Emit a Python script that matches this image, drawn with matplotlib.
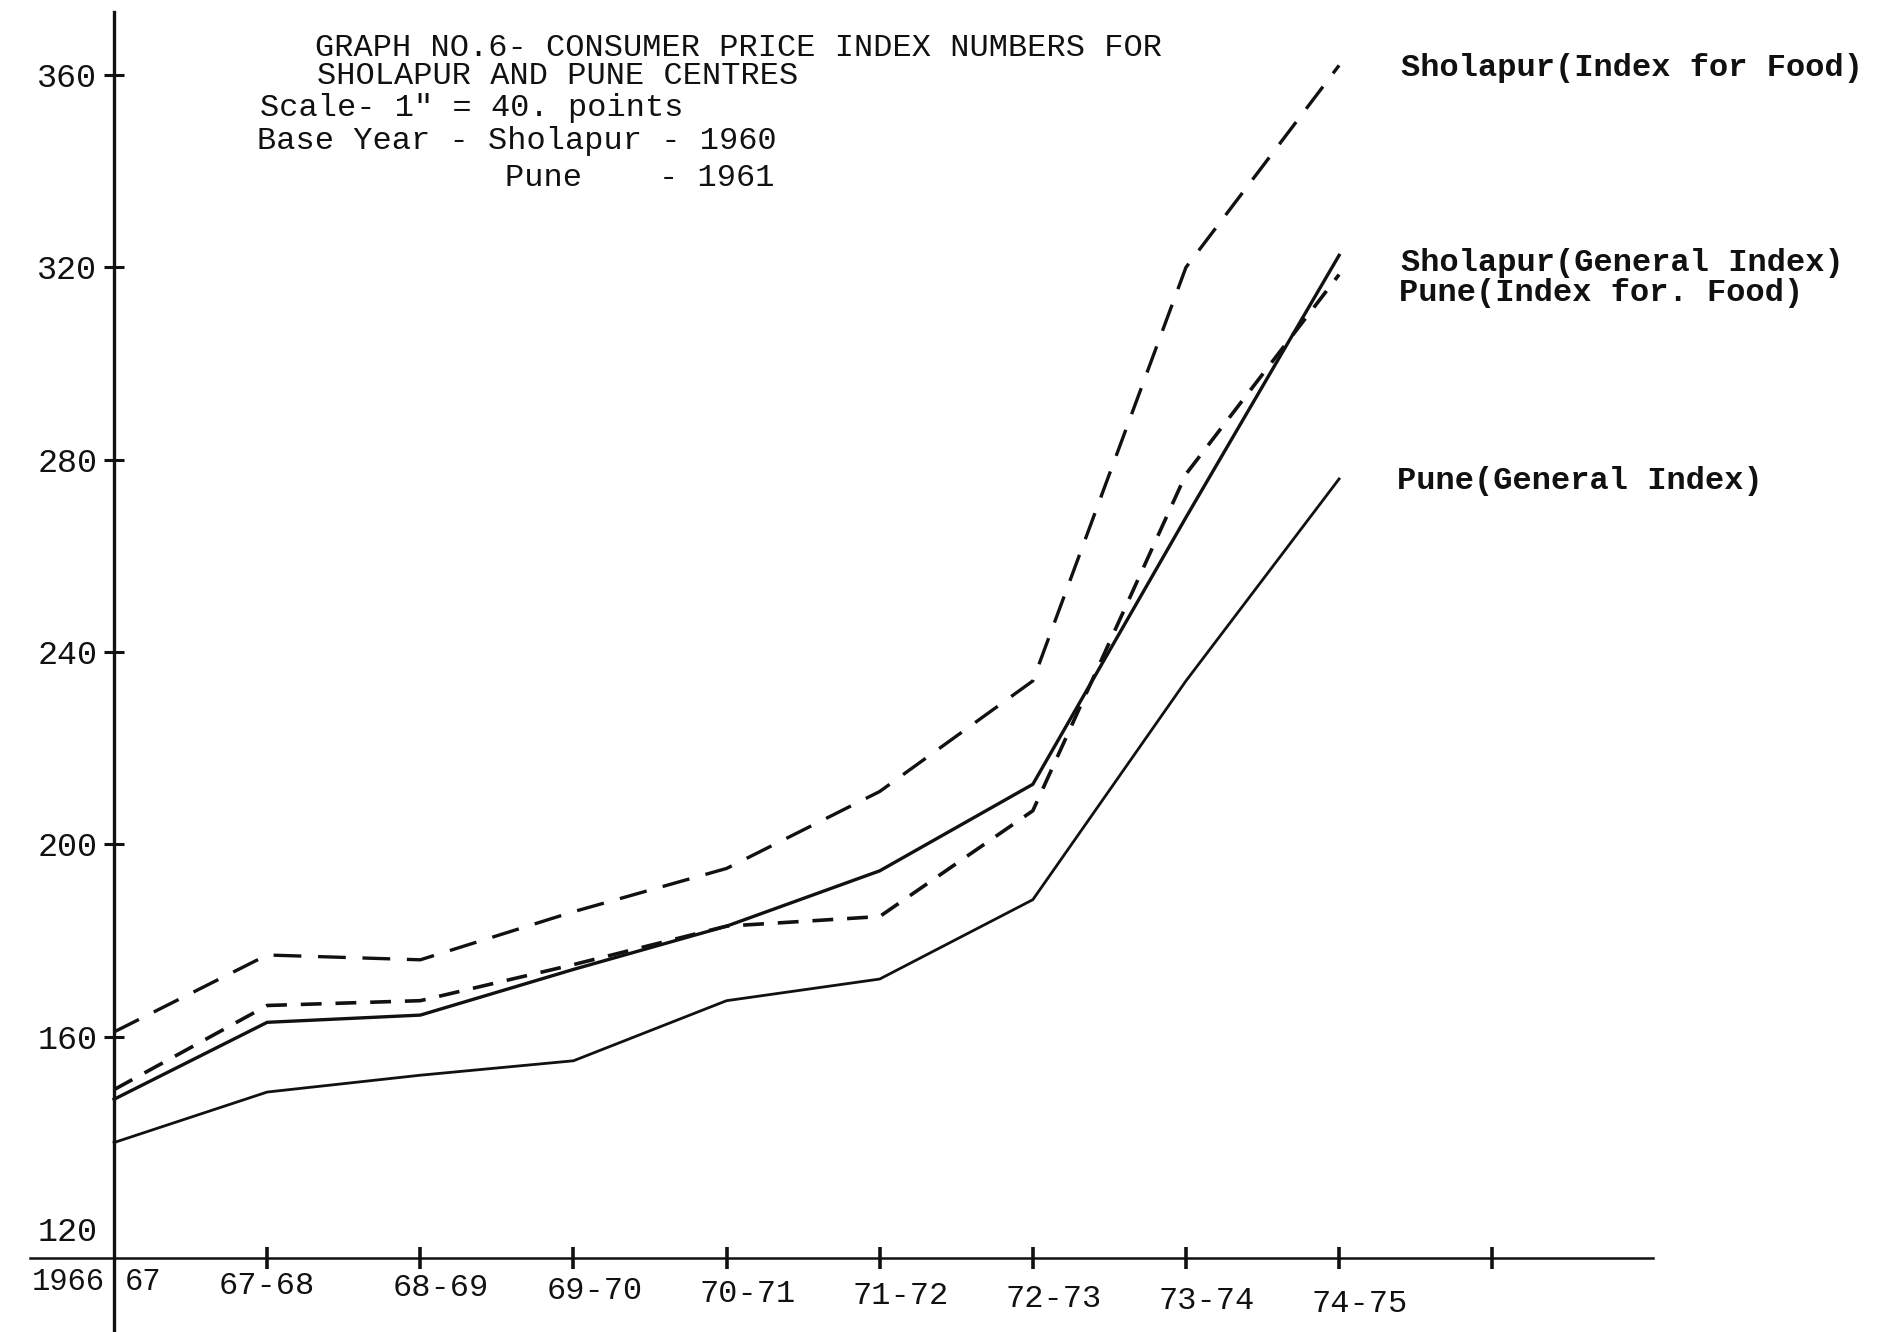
import matplotlib
matplotlib.use("Agg")
import matplotlib.pyplot as plt

# ---------------- data ----------------
periods = ["1966-67", "67-68", "68-69", "69-70", "70-71", "71-72", "72-73", "73-74", "74-75"]
sholapur_food = [161, 177, 176, 186, 195, 211, 234, 320, 362]
sholapur_general = [147, 163, 164.5, 174, 183, 194.5, 212.5, 268, 322.5]
pune_food = [149, 166.5, 167.5, 175, 183, 185, 207, 277, 318.5]
pune_general = [138, 148.5, 152, 155, 167.5, 172, 188.5, 234, 276]
y_ticks = [120, 160, 200, 240, 280, 320, 360]
y_tick_labels = ["120", "160", "200", "240", "280", "320", "360"]

title_lines = [
    "GRAPH NO.6- CONSUMER PRICE INDEX NUMBERS FOR",
    "SHOLAPUR AND PUNE CENTRES",
    "Scale- 1\" = 40. points",
    "Base Year - Sholapur - 1960",
]
title_last = "Pune    - 1961"
series_labels = [
    "Sholapur(Index for Food)",
    "Sholapur(General Index)",
    "Pune(Index for. Food)",
    "Pune(General Index)",
]

# ---------------- figure ----------------
plt.rcParams["lines.scale_dashes"] = False
FONT = ["Liberation Mono", "DejaVu Sans Mono"]
INK = "#111111"

W, H = 1878, 1332
fig = plt.figure(figsize=(W / 100, H / 100), dpi=100)
fig.patch.set_facecolor("white")
ax = fig.add_axes([30 / W, 0, (1653 - 30) / W, 1 - 12 / H])
ax.set_facecolor("white")
ax.set_xlim(-0.549, 10.05)
ax.set_ylim(98.6, 373.1)

x = list(range(len(periods)))
ax.plot(x, sholapur_food, color=INK, lw=2.4, dashes=(20, 12), solid_capstyle="round")
ax.plot(x, sholapur_general, color=INK, lw=2.4)
ax.plot(x, pune_food, color=INK, lw=2.6, dashes=(15, 10))
ax.plot(x, pune_general, color=INK, lw=2.0)

for s in ("top", "right"):
    ax.spines[s].set_visible(False)
ax.spines["left"].set_position(("data", 0))
ax.spines["bottom"].set_position(("data", 114))
ax.spines["left"].set_linewidth(2.4)
ax.spines["bottom"].set_linewidth(1.8)
ax.spines["left"].set_color(INK)
ax.spines["bottom"].set_color(INK)

ax.set_yticks(y_ticks)
ax.set_yticklabels(y_tick_labels, fontfamily=FONT, fontsize=24, color=INK)
ax.tick_params(axis="y", direction="inout", length=14, width=2.2, pad=5, colors=INK)
ax.yaxis.get_major_ticks()[0].tick1line.set_visible(False)

ax.set_xticks(list(range(1, 10)))
ax.set_xticklabels([""] * 9)
ax.tick_params(axis="x", direction="inout", length=16, width=2.6, colors=INK)

# x labels
ax.annotate(periods[0][:4], xy=(0, 114), xytext=(-33, -17), textcoords="offset points",
            ha="center", va="center", fontfamily=FONT, fontsize=22, color=INK)
ax.annotate(periods[0][5:], xy=(0, 114), xytext=(21, -17), textcoords="offset points",
            ha="center", va="center", fontfamily=FONT, fontsize=22, color=INK)
for i in range(1, len(periods)):
    dx = 0 if i == 1 else 15
    dy = -18 - 1.9 * i
    ax.annotate(periods[i], xy=(i, 114), xytext=(dx, dy), textcoords="offset points",
                ha="center", va="center", fontfamily=FONT, fontsize=23, color=INK)

# title block (figure pixels, measured from top)
title_pos = [(315, 48), (317, 76), (260, 108), (257, 141)]
for txt, (px, py) in zip(title_lines, title_pos):
    fig.text(px / W, 1 - py / H, txt, ha="left", va="center", fontfamily=FONT,
             fontsize=23, color=INK)
fig.text(505 / W, 1 - 178 / H, title_last, ha="left", va="center", fontfamily=FONT,
         fontsize=23, color=INK)

# series labels at right
label_pos = [(1401, 68), (1401, 263), (1399, 293), (1397, 481)]
for txt, (px, py) in zip(series_labels, label_pos):
    fig.text(px / W, 1 - py / H, txt, ha="left", va="center", fontfamily=FONT,
             fontsize=23, fontweight="bold", color=INK)

fig.savefig("out.png", dpi=100, facecolor="white")
